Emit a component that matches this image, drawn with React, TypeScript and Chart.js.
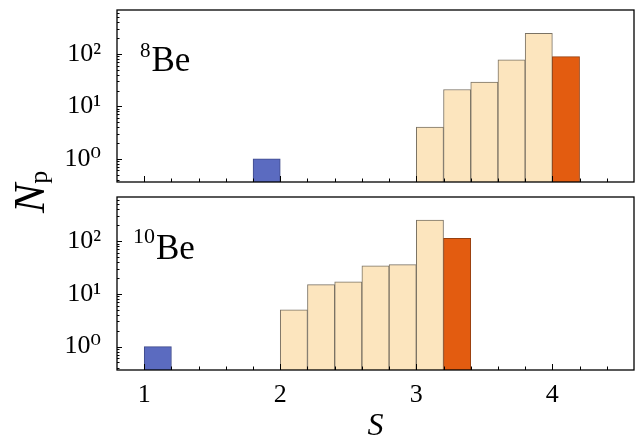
import React, { useEffect, useRef } from 'react';
import { Chart, registerables } from 'chart.js';

Chart.register(...registerables);

// ---- data ----
const sRange = [0.8, 4.6];
const sTicks = [1, 2, 3, 4];
const yTicks = [1, 10, 100];
const yTickLabels = ['10⁰', '10¹', '10²'];
const yRange = [0.36, 690];

const be8Bins = [1.9, 3.1, 3.3, 3.5, 3.7, 3.9, 4.1];
const be8Counts = [1, 4, 21, 29, 77, 248, 89];
const be8Kinds = ['low', 'mid', 'mid', 'mid', 'mid', 'mid', 'top'];

const be10Bins = [1.1, 2.1, 2.3, 2.5, 2.7, 2.9, 3.1, 3.3];
const be10Counts = [1, 5, 15, 17, 34, 36, 252, 113];
const be10Kinds = ['low', 'mid', 'mid', 'mid', 'mid', 'mid', 'mid', 'top'];

const kindFill: Record<string, string> = { low: '#5b6bc0', mid: '#fce5be', top: '#e35c10' };
const kindEdge: Record<string, string> = { low: '#3f4a8a', mid: '#7a7264', top: '#97400f' };

const SERIF = '"Liberation Serif", "DejaVu Serif", serif';

type PanelLabel = { mass: string; x: number; base: number; supBase: number; supSize: number };

function framePlugin(label: PanelLabel) {
  return {
    id: 'frameTicks',
    afterDraw(chart: any) {
      const { ctx, chartArea: a, scales } = chart;
      const xs = scales.x;
      const ys = scales.y;
      ctx.save();
      ctx.strokeStyle = '#000';
      ctx.lineWidth = 1;
      ctx.beginPath();
      for (let k = -1; k <= 3; k++) {
        for (let m = 1; m <= 9; m++) {
          const v = m * Math.pow(10, k);
          if (v <= ys.min || v >= ys.max) continue;
          const py = Math.round(ys.getPixelForValue(v)) + 0.5;
          const len = m === 1 ? 5 : 2.5;
          ctx.moveTo(a.left, py);
          ctx.lineTo(a.left + len, py);
        }
      }
      const n = Math.round((sRange[1] - sRange[0]) / 0.2);
      for (let i = 1; i < n; i++) {
        const v = sRange[0] + 0.2 * i;
        const major = Math.abs(v - Math.round(v)) < 1e-6;
        const px = Math.round(xs.getPixelForValue(v)) + 0.5;
        ctx.moveTo(px, a.bottom);
        ctx.lineTo(px, a.bottom - (major ? 6 : 3.5));
      }
      ctx.stroke();
      ctx.lineWidth = 1.3;
      ctx.strokeRect(a.left, a.top, a.right - a.left, a.bottom - a.top);

      ctx.fillStyle = '#000';
      ctx.textAlign = 'left';
      ctx.textBaseline = 'alphabetic';
      ctx.font = `${label.supSize}px ${SERIF}`;
      ctx.fillText(label.mass, label.x, label.supBase);
      const w = ctx.measureText(label.mass).width;
      ctx.font = `35px ${SERIF}`;
      ctx.fillText('Be', label.x + w + 1, label.base);
      ctx.restore();
    },
  };
}

function zeroPad(ax: any) {
  ax.paddingTop = 0;
  ax.paddingBottom = 0;
  ax.paddingLeft = 0;
  ax.paddingRight = 0;
}

function makeConfig(bins: number[], counts: number[], kinds: string[], bottom: boolean, label: PanelLabel): any {
  return {
    type: 'bar',
    data: {
      datasets: [
        {
          data: bins.map((b, i) => ({ x: b, y: counts[i] })),
          backgroundColor: kinds.map((k) => kindFill[k]),
          borderColor: kinds.map((k) => kindEdge[k]),
          borderWidth: 1,
          barPercentage: 1,
          categoryPercentage: 1,
        },
      ],
    },
    options: {
      responsive: false,
      animation: false,
      events: [],
      layout: { padding: { top: bottom ? 7 : 10, right: 4, left: 0, bottom: 0 } },
      plugins: { legend: { display: false }, tooltip: { enabled: false } },
      scales: {
        x: {
          type: 'linear',
          offset: false,
          min: sRange[0],
          max: sRange[1],
          grid: { display: false, offset: false },
          border: { display: false },
          afterBuildTicks: (ax: any) => {
            ax.ticks = sTicks.map((v) => ({ value: v }));
          },
          afterFit: (ax: any) => {
            ax.height = bottom ? 76 : 8;
            zeroPad(ax);
          },
          ticks: {
            display: bottom,
            color: '#000',
            padding: 2,
            maxRotation: 0,
            autoSkip: false,
            font: { family: SERIF, size: 26 },
            callback: (v: any) => String(v),
          },
          title: {
            display: bottom,
            text: 'S',
            color: '#000',
            padding: { top: 0, bottom: 0 },
            font: { family: SERIF, size: 32, style: 'italic' },
          },
        },
        y: {
          type: 'logarithmic',
          min: yRange[0],
          max: yRange[1],
          grid: { display: false },
          border: { display: false },
          afterBuildTicks: (ax: any) => {
            ax.ticks = yTicks.map((v) => ({ value: v }));
          },
          afterFit: (ax: any) => {
            ax.width = 117;
            zeroPad(ax);
          },
          ticks: {
            color: '#000',
            padding: 8,
            autoSkip: false,
            font: { family: SERIF, size: 26 },
            callback: (v: any) => {
              const i = yTicks.indexOf(Number(v));
              return i >= 0 ? yTickLabels[i] : '';
            },
          },
        },
      },
    },
    plugins: [framePlugin(label)],
  };
}

function Panel(props: { bins: number[]; counts: number[]; kinds: string[]; bottom: boolean; label: PanelLabel; top: number; height: number }) {
  const ref = useRef<HTMLCanvasElement | null>(null);
  useEffect(() => {
    if (!ref.current) return;
    const chart = new Chart(ref.current, makeConfig(props.bins, props.counts, props.kinds, props.bottom, props.label));
    return () => chart.destroy();
  }, []);
  return (
    <canvas
      ref={ref}
      width={638}
      height={props.height}
      style={{ position: 'absolute', left: 0, top: props.top, width: 638, height: props.height }}
    />
  );
}

export default function App() {
  return (
    <div style={{ position: 'fixed', left: 0, top: 0, width: 638, height: 446, background: '#fff', overflow: 'hidden' }}>
      <Panel
        bins={be8Bins}
        counts={be8Counts}
        kinds={be8Kinds}
        bottom={false}
        top={0}
        height={190}
        label={{ mass: '8', x: 140, base: 71, supBase: 57, supSize: 21 }}
      />
      <Panel
        bins={be10Bins}
        counts={be10Counts}
        kinds={be10Kinds}
        bottom={true}
        top={190}
        height={256}
        label={{ mass: '10', x: 133, base: 69, supBase: 53, supSize: 22 }}
      />
      <div
        style={{
          position: 'absolute',
          left: 8,
          top: 213,
          transformOrigin: '0 0',
          transform: 'rotate(-90deg)',
          fontFamily: SERIF,
          fontSize: 44,
          lineHeight: '44px',
          whiteSpace: 'nowrap',
          color: '#000',
        }}
      >
        <i>N</i>
        <span style={{ fontStyle: 'normal', fontSize: 26, position: 'relative', top: 3 }}>p</span>
      </div>
    </div>
  );
}
